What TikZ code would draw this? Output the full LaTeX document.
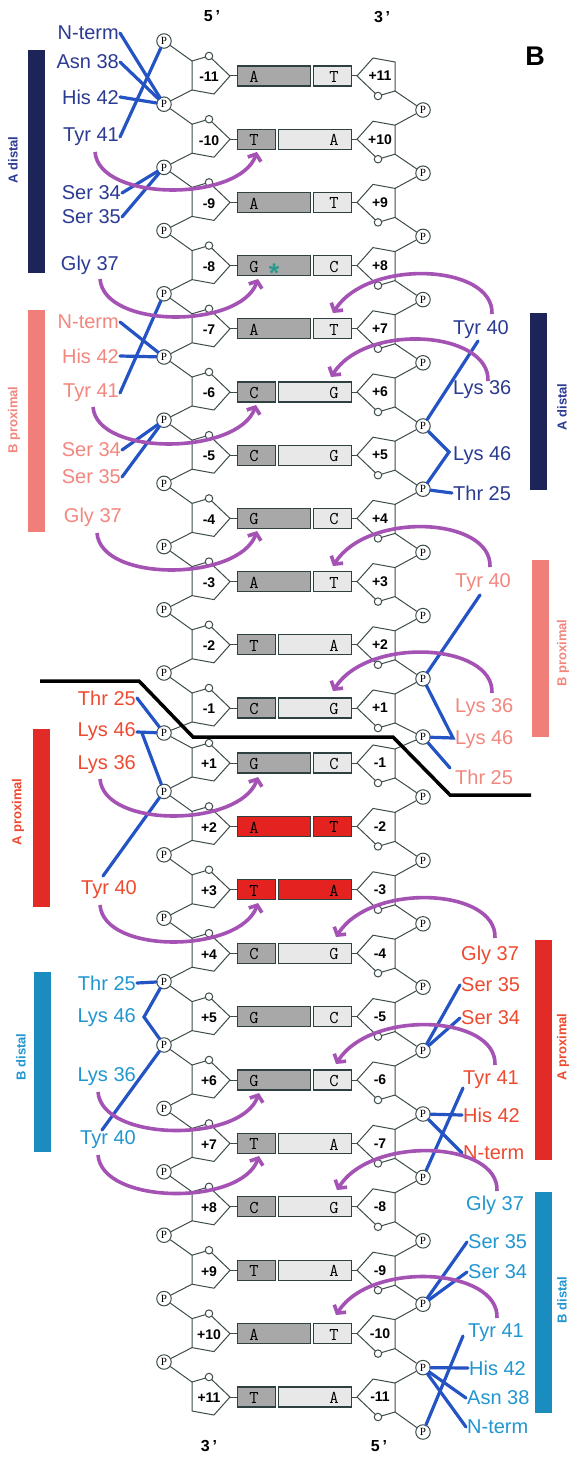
\documentclass[tikz,border=0pt]{standalone}
\usepackage{fontspec}
\setmainfont{Liberation Sans}
\newfontfamily\serf{Liberation Serif}
\usetikzlibrary{arrows.meta,calc}
\definecolor{navyT}{HTML}{2B3A92}
\definecolor{navyB}{HTML}{1C2458}
\definecolor{salT}{HTML}{F2877F}
\definecolor{salB}{HTML}{F07F7A}
\definecolor{redT}{HTML}{EE4A30}
\definecolor{redB}{HTML}{E22A26}
\definecolor{ltT}{HTML}{2196D0}
\definecolor{ltB}{HTML}{1B8CC0}
\definecolor{lineB}{HTML}{2454C4}
\definecolor{arcP}{HTML}{A552B5}
\definecolor{strk}{HTML}{3E4C4C}
\definecolor{boxl}{HTML}{2E4040}
\definecolor{darkg}{HTML}{A8A8A8}
\definecolor{lightg}{HTML}{E8E8E8}
\definecolor{redbox}{HTML}{E42320}
\definecolor{tealst}{HTML}{2A9A8C}
\begin{document}
\begin{tikzpicture}[x=1pt,y=-1pt,
  sug/.style={draw=strk,line width=1pt,fill=white},
  thinl/.style={draw=strk,line width=1pt},
  pcirc/.style={circle,draw=strk,line width=1pt,fill=white,minimum size=14.5pt,inner sep=0pt,font=\serf\fontsize{11}{11}\selectfont},
  ocirc/.style={circle,draw=strk,line width=1pt,fill=white,minimum size=7.5pt,inner sep=0pt},
  numlab/.style={font=\bfseries\fontsize{14}{14}\selectfont,inner sep=0pt},
  bbox/.style={draw=boxl,line width=1.2pt,minimum height=20pt,inner sep=0pt},
  basel/.style={font=\ttfamily\fontsize{18}{18}\selectfont,inner sep=0pt},
  lab/.style={font=\fontsize{20}{20}\selectfont,inner sep=1pt},
  barlab/.style={font=\bfseries\fontsize{13}{13}\selectfont,rotate=90,inner sep=0pt},
  bar/.style={inner sep=0pt,minimum width=17pt},
  ia/.style={draw=lineB,line width=3.2pt,line cap=round},
  parc/.style={draw=arcP,line width=3.6pt,-{Straight Barb[length=5.5pt,width=14pt]}},
  endlab/.style={font=\bfseries\fontsize{16}{16}\selectfont,inner sep=0pt}
  ]
\useasboundingbox (0,0) rectangle (570,1458);
\fill[white] (0,0) rectangle (570,1458);

% ---------- base pairs ----------
\foreach \i/\y/\labL/\labR/\bL/\bR/\wL/\wR/\fL/\fR in {
1/76/-11/+11/A/T/73/38/darkg/lightg,
2/139.2/-10/+10/T/A/38/73/darkg/lightg,
3/202.4/-9/+9/A/T/73/38/darkg/lightg,
4/265.6/-8/+8/G/C/73/38/darkg/lightg,
5/328.8/-7/+7/A/T/73/38/darkg/lightg,
6/392/-6/+6/C/G/38/73/darkg/lightg,
7/455.2/-5/+5/C/G/38/73/darkg/lightg,
8/518.4/-4/+4/G/C/73/38/darkg/lightg,
9/581.6/-3/+3/A/T/73/38/darkg/lightg,
10/644.8/-2/+2/T/A/38/73/darkg/lightg,
11/708/-1/+1/C/G/38/73/darkg/lightg,
12/763/+1/-1/G/C/73/38/darkg/lightg,
13/826.4/+2/-2/A/T/73/38/redbox/redbox,
14/889.8/+3/-3/T/A/38/73/redbox/redbox,
15/953.2/+4/-4/C/G/38/73/darkg/lightg,
16/1016.6/+5/-5/G/C/73/38/darkg/lightg,
17/1080/+6/-6/G/C/73/38/darkg/lightg,
18/1143.4/+7/-7/T/A/38/73/darkg/lightg,
19/1206.8/+8/-8/C/G/38/73/darkg/lightg,
20/1270.2/+9/-9/T/A/38/73/darkg/lightg,
21/1333.6/+10/-10/A/T/73/38/darkg/lightg,
22/1397/+11/-11/T/A/38/73/darkg/lightg}{
  \draw[sug] (192,\y-15) -- (209,\y-20) -- (230,\y) -- (214,\y+18) -- (192,\y+14) -- cycle;
  \node[ocirc] (ol\i) at (209,\y-20) {};
  \node[numlab] (nl\i) at (209,\y+1) {\labL};
  \draw[sug] (395,\y+15) -- (378,\y+20) -- (357,\y) -- (373,\y-18) -- (395,\y-14) -- cycle;
  \node[ocirc] (or\i) at (378,\y+20) {};
  \node[numlab] (nr\i) at (380,\y) {\labR};
  \node[bbox,fill=\fL,minimum width=\wL pt,anchor=west] (bl\i) at (237,\y) {};
  \node[bbox,fill=\fR,minimum width=\wR pt,anchor=east] (br\i) at (352,\y) {};
  \node[basel] (tl\i) at (254,\y+1) {\bL};
  \node[basel] (tr\i) at (334,\y+1) {\bR};
  \draw[thinl] (230,\y) -- (bl\i.west);
  \draw[thinl] (br\i.east) -- (357,\y);
}
\node[text=tealst,font=\bfseries\fontsize{27}{27}\selectfont,inner sep=0pt] (star) at (274,273) {*};

% ---------- phosphates ----------
\foreach \i/\y/\yl/\yr in {
1/76/41/110, 2/139.2/104.2/173.2, 3/202.4/167.4/236.4, 4/265.6/230.6/299.6,
5/328.8/293.8/362.8, 6/392/357/426, 7/455.2/420.2/489.2, 8/518.4/483.4/552.4,
9/581.6/546.6/615.6, 10/644.8/609.8/678.8, 11/708/673/737, 12/763/733/797,
13/826.4/791.4/860.4, 14/889.8/854.8/923.8, 15/953.2/918.2/987.2,
16/1016.6/981.6/1050.6, 17/1080/1045/1114, 18/1143.4/1108.4/1177.4,
19/1206.8/1171.8/1240.8, 20/1270.2/1235.2/1304.2, 21/1333.6/1298.6/1367.6,
22/1397/1362/1432}{
  \node[pcirc] (pl\i) at (164,\yl) {P};
  \node[pcirc] (pr\i) at (423,\yr) {P};
  \draw[thinl] (pl\i) -- (192,\y-15);
  \draw[thinl] (395,\y+15) -- (pr\i);
}
\foreach \i/\j/\yi/\yj in {1/2/76/139.2, 2/3/139.2/202.4, 3/4/202.4/265.6,
4/5/265.6/328.8, 5/6/328.8/392, 6/7/392/455.2, 7/8/455.2/518.4,
8/9/518.4/581.6, 9/10/581.6/644.8, 10/11/644.8/708, 11/12/708/763,
12/13/763/826.4, 13/14/826.4/889.8, 14/15/889.8/953.2, 15/16/953.2/1016.6,
16/17/1016.6/1080, 17/18/1080/1143.4, 18/19/1143.4/1206.8,
19/20/1206.8/1270.2, 20/21/1270.2/1333.6, 21/22/1333.6/1397}{
  \draw[thinl] (192,\yi+14) -- (pl\j);
  \draw[thinl] (pr\i) -- (395,\yj-14);
}

% ---------- end labels ----------
\node[endlab] (t5) at (212,16) {5\,'};
\node[endlab] (t3) at (382,17) {3\,'};
\node[endlab] (b3) at (209,1446) {3\,'};
\node[endlab] (b5) at (379,1446) {5\,'};
\node[font=\bfseries\fontsize{27}{27}\selectfont,inner sep=0pt] (panelB) at (535,56) {B};

% ---------- bars ----------
\node[bar,fill=navyB,minimum height=223pt] (barAD) at (36,161.5) {};
\node[bar,fill=salB,minimum height=222pt] (barBP) at (36.5,421) {};
\node[bar,fill=redB,minimum height=178pt] (barAP) at (41,818) {};
\node[bar,fill=ltB,minimum height=180pt] (barBD) at (42,1062) {};
\node[bar,fill=navyB,minimum height=177pt] (barADr) at (538.5,401.5) {};
\node[bar,fill=salB,minimum height=177pt] (barBPr) at (540,648.5) {};
\node[bar,fill=redB,minimum height=220pt] (barAPr) at (543,1050) {};
\node[bar,fill=ltB,minimum height=221pt] (barBDr) at (543,1302.5) {};
\node[barlab,text=navyT] (lbAD) at (13,160) {A distal};
\node[barlab,text=salT] (lbBP) at (14,420) {B proximal};
\node[barlab,text=redT] (lbAP) at (18,812) {A proximal};
\node[barlab,text=ltT] (lbBD) at (21,1057) {B distal};
\node[barlab,text=navyT] (lbADr) at (562,407) {A distal};
\node[barlab,text=salT] (lbBPr) at (563,653) {B proximal};
\node[barlab,text=redT] (lbAPr) at (563,1047) {A proximal};
\node[barlab,text=ltT] (lbBDr) at (562,1300) {B distal};

% ---------- residue labels ----------
\begin{scope}[every node/.style={lab,anchor=east}]
\node[text=navyT] (adN) at (120,33) {N-term};
\node[text=navyT] (adAsn) at (120,62) {Asn 38};
\node[text=navyT] (adHis) at (120,97) {His 42};
\node[text=navyT] (adTyr) at (120,137) {Tyr 41};
\node[text=navyT] (adS34) at (122,193) {Ser 34};
\node[text=navyT] (adS35) at (122,217) {Ser 35};
\node[text=navyT] (adGly) at (120,265) {Gly 37};
\node[text=salT] (bpN) at (120,322) {N-term};
\node[text=salT] (bpHis) at (120,356) {His 42};
\node[text=salT] (bpTyr) at (120,393) {Tyr 41};
\node[text=salT] (bpS34) at (122,450) {Ser 34};
\node[text=salT] (bpS35) at (122,477) {Ser 35};
\node[text=salT] (bpGly) at (123,517) {Gly 37};
\node[text=redT] (apThr) at (137,698) {Thr 25};
\node[text=redT] (apL46) at (137,732) {Lys 46};
\node[text=redT] (apL36) at (137,765) {Lys 36};
\node[text=redT] (apTyr) at (138,890) {Tyr 40};
\node[text=ltT] (bdThr) at (137,983) {Thr 25};
\node[text=ltT] (bdL46) at (137,1018) {Lys 46};
\node[text=ltT] (bdL36) at (137,1077) {Lys 36};
\node[text=ltT] (bdTyr) at (137,1140) {Tyr 40};
\end{scope}
\begin{scope}[every node/.style={lab,anchor=west}]
\node[text=navyT] (adRTyr) at (452,330) {Tyr 40};
\node[text=navyT] (adRL36) at (452,390) {Lys 36};
\node[text=navyT] (adRL46) at (452,456) {Lys 46};
\node[text=navyT] (adRThr) at (452,493) {Thr 25};
\node[text=salT] (bpRTyr) at (454,583) {Tyr 40};
\node[text=salT] (bpRL36) at (454,708) {Lys 36};
\node[text=salT] (bpRL46) at (454,740) {Lys 46};
\node[text=salT] (bpRThr) at (454,777) {Thr 25};
\node[text=redT] (apRGly) at (460,955) {Gly 37};
\node[text=redT] (apRS35) at (460,985) {Ser 35};
\node[text=redT] (apRS34) at (460,1018) {Ser 34};
\node[text=redT] (apRTyr) at (462,1080) {Tyr 41};
\node[text=redT] (apRHis) at (462,1115) {His 42};
\node[text=redT] (apRN) at (462,1153) {N-term};
\node[text=ltT] (bdRGly) at (465,1205) {Gly 37};
\node[text=ltT] (bdRS35) at (467,1242) {Ser 35};
\node[text=ltT] (bdRS34) at (467,1272) {Ser 34};
\node[text=ltT] (bdRTyr) at (467,1333) {Tyr 41};
\node[text=ltT] (bdRHis) at (468,1368) {His 42};
\node[text=ltT] (bdRAsn) at (466,1398) {Asn 38};
\node[text=ltT] (bdRN) at (466,1427) {N-term};
\end{scope}

% ---------- contacts (blue) ----------
\draw[ia] (adN.east) -- (pl2);
\draw[ia] (adAsn.east) -- (pl2);
\draw[ia] (adHis.east) -- (pl2);
\draw[ia] (adTyr.east) -- (pl1);
\draw[ia] (adS34.east) -- (pl3);
\draw[ia] (adS35.east) -- (pl3);
\draw[ia] (bpN.east) -- (pl6);
\draw[ia] (bpHis.east) -- (pl6);
\draw[ia] (bpTyr.east) -- (pl5);
\draw[ia] (bpS34.east) -- (pl7);
\draw[ia] (bpS35.east) -- (pl7);
\draw[ia] (apThr.east) -- (pl12);
\coordinate (apK) at (142,733);
\draw[ia] (pl12) -- (apL46.east);
\draw[ia] (apK) -- (pl13);
\coordinate (apTs) at (103,876);
\draw[ia] (apTs) -- (pl13);
\draw[ia] (bdThr.east) -- (pl16);
\coordinate (bdK) at (144,1017);
\draw[ia] (pl16) -- (bdK) -- (pl17);
\coordinate (bdTs) at (102,1130);
\draw[ia] (bdTs) -- (pl17);
\coordinate (adRTs) at (478,341);
\draw[ia] (adRTs) -- (pr6);
\coordinate (adRK) at (449,452);
\draw[ia] (pr6) -- (adRK) -- (pr7);
\draw[ia] (pr7) -- (adRThr.west);
\coordinate (bpRTs) at (480,595);
\draw[ia] (bpRTs) -- (pr10);
\coordinate (bpRK) at (453,738);
\draw[ia] (pr10) -- (bpRK) -- (pr11);
\coordinate (bpRTe) at (450,768);
\draw[ia] (pr11) -- (bpRTe);
\draw[ia] (apRS35.west) -- (pr16);
\draw[ia] (apRS34.west) -- (pr16);
\coordinate (apRTs) at (463,1088);
\draw[ia] (apRTs) -- (pr18);
\draw[ia] (pr17) -- (apRHis.west);
\draw[ia] (pr17) -- (apRN.west);
\draw[ia] (bdRS35.west) -- (pr20);
\draw[ia] (bdRS34.west) -- (pr20);
\coordinate (bdRTs) at (463,1336);
\draw[ia] (bdRTs) -- (pr22);
\draw[ia] (pr21) -- (bdRHis.west);
\draw[ia] (pr21) -- (bdRAsn.west);
\draw[ia] (pr21) -- (bdRN.west);

% ---------- boundary line ----------
\coordinate (k1) at (40,681);
\coordinate (k2) at (139,681);
\coordinate (k3) at (193,737);
\coordinate (k4) at (393,737);
\coordinate (k5) at (450,795);
\coordinate (k6) at (531,795);
\draw[line width=3.5pt] (k1) -- (k2) -- (k3) -- (k4) -- (k5) -- (k6);

% ---------- purple arcs ----------
\foreach \n/\sx/\sy/\tx/\ty in {1/95/152/257/152, 2/100/279/258/279, 3/93/407/256/405,
4/97/533/257/531, 5/100/779/258/777, 6/100/905/258/903, 7/98/1092/259/1093, 8/98/1155/259/1156}{
  \coordinate (las\n) at (\sx,\sy);
  \coordinate (lat\n) at (\tx,\ty);
  \draw[parc] (las\n) .. controls +(4,50) and +(-18,50) .. (lat\n);
}
\foreach \n/\sx/\sy/\tx/\ty in {1/492/314/333/313, 2/488/381/331/377, 3/490/567/333/566,
4/492/693/333/691, 5/495/938/336/937, 6/495/1065/336/1064, 7/497/1191/337/1190, 8/497/1318/336/1315}{
  \coordinate (ras\n) at (\sx,\sy);
  \coordinate (rat\n) at (\tx,\ty);
  \draw[parc] (ras\n) .. controls +(2,-50) and +(35,-55) .. (rat\n);
}
\end{tikzpicture}
\end{document}
